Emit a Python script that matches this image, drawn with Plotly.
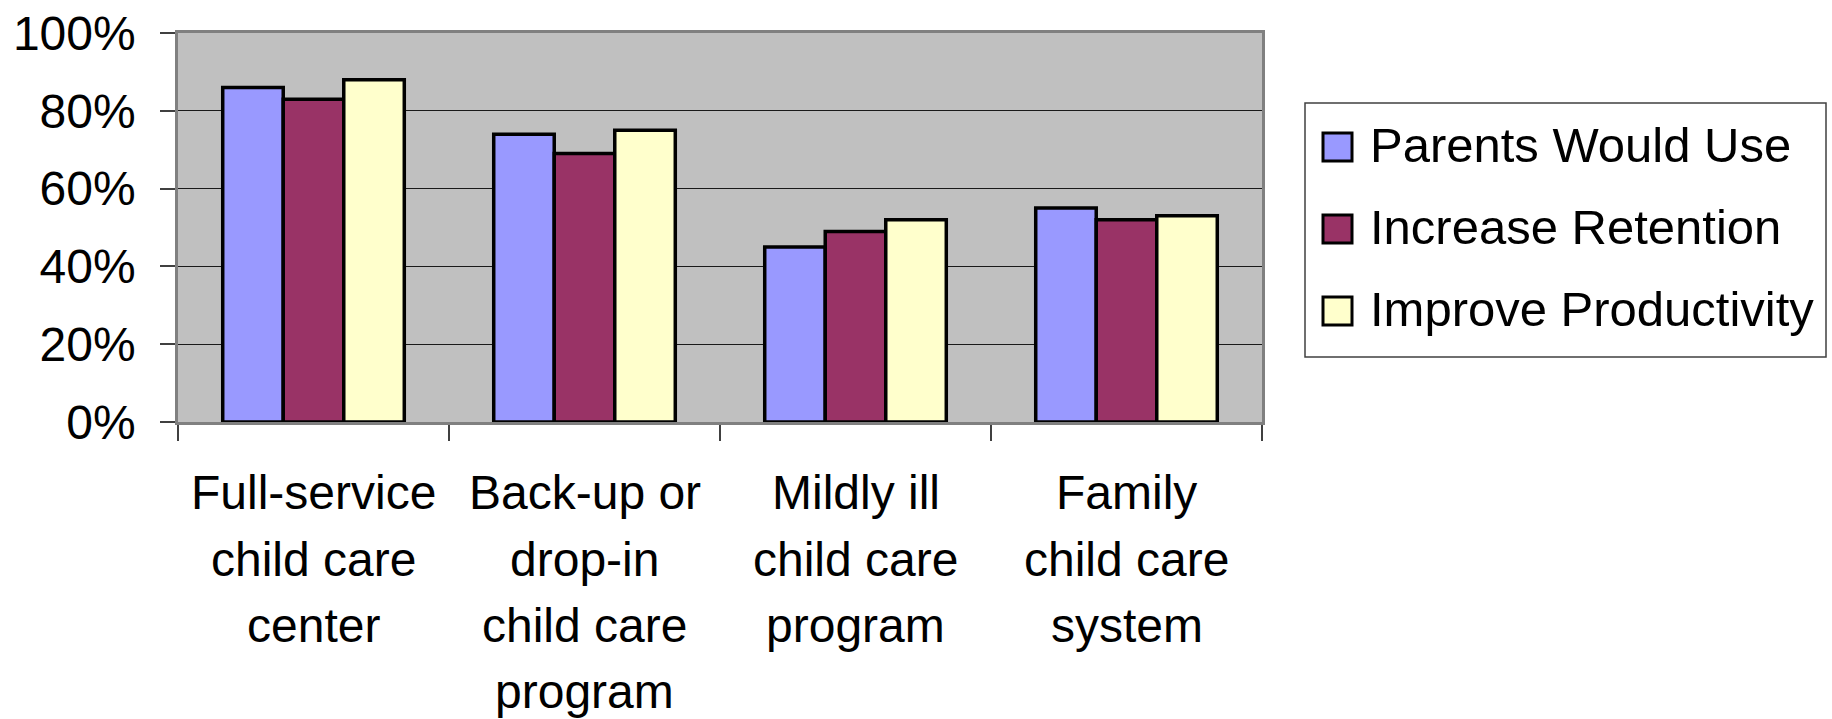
import plotly.graph_objects as go

# Survey results by type of employer-supported child care
category_lines = [
    ["Full-service", "child care", "center"],
    ["Back-up or", "drop-in", "child care", "program"],
    ["Mildly ill", "child care", "program"],
    ["Family", "child care", "system"],
]
categories = [" ".join(lines) for lines in category_lines]
series_names = ["Parents Would Use", "Increase Retention", "Improve Productivity"]
parents_would_use = [0.86, 0.74, 0.45, 0.55]
increase_retention = [0.83, 0.69, 0.49, 0.52]
improve_productivity = [0.88, 0.75, 0.52, 0.53]
series_values = [parents_would_use, increase_retention, improve_productivity]
series_colors = ["#9999FF", "#993366", "#FFFFCC"]
y_tick_values = [0, 0.2, 0.4, 0.6, 0.8, 1.0]
y_tick_labels = ["0%", "20%", "40%", "60%", "80%", "100%"]

FONT = "Liberation Sans, Arial, sans-serif"
W, H = 1832, 719
# plot area in pixels
PL, PR, PT, PB = 178, 1262, 33, 422

fig = go.Figure()
for name, vals, col in zip(series_names, series_values, series_colors):
    fig.add_trace(go.Bar(
        name=name, x=categories, y=vals,
        marker=dict(color=col, line=dict(color="black", width=3.5)),
        showlegend=False,
    ))

fig.update_layout(
    width=W, height=H, autosize=False,
    margin=dict(l=PL, r=W - PR, t=PT, b=H - PB, pad=0),
    paper_bgcolor="white", plot_bgcolor="#C0C0C0",
    barmode="group", bargap=0.33, bargroupgap=0,
    font=dict(family=FONT, size=48, color="black"),
)
fig.update_xaxes(
    type="category", tickson="boundaries", ticks="outside", ticklen=16,
    tickwidth=1.5, tickcolor="#404040",
    showline=True, linecolor="#808080", linewidth=2.5, mirror=True,
    showgrid=False, showticklabels=False, automargin=False,
)
fig.update_yaxes(
    range=[0, 1], tickvals=y_tick_values, ticktext=y_tick_labels,
    ticks="outside", ticklen=15, tickwidth=1.5, tickcolor="#404040",
    showline=True, linecolor="#808080", linewidth=2.5, mirror=True,
    showgrid=True, gridcolor="#1a1a1a", gridwidth=1.2, zeroline=False,
    tickfont=dict(size=48, family=FONT), ticklabelstandoff=15,
    automargin=False,
)


def px_x(px):
    return (px - PL) / (PR - PL)


def px_y(py):
    return (PB - py) / (PB - PT)


annotations = []
# category labels, one line per annotation for wider line spacing
LINE_TOP, LINE_STEP = 493, 66
for cat, lines in zip(categories, category_lines):
    for i, line in enumerate(lines):
        annotations.append(dict(
            xref="x", yref="paper", x=cat, y=px_y(LINE_TOP + i * LINE_STEP),
            xanchor="center", yanchor="middle", showarrow=False, text=line,
            font=dict(family=FONT, size=48, color="black")))

# legend drawn as a framed box with swatches
shapes = [dict(type="rect", xref="paper", yref="paper",
               x0=px_x(1305), x1=px_x(1826), y0=px_y(357), y1=px_y(103),
               line=dict(color="#404040", width=1.5), fillcolor="white")]
row_centers = [147, 229, 311]
for name, col, cy in zip(series_names, series_colors, row_centers):
    shapes.append(dict(type="rect", xref="paper", yref="paper",
                       x0=px_x(1323), x1=px_x(1352), y0=px_y(cy + 14), y1=px_y(cy - 14),
                       line=dict(color="black", width=3), fillcolor=col))
    annotations.append(dict(xref="paper", yref="paper", x=px_x(1368), y=px_y(cy - 2),
                            xanchor="left", yanchor="middle", showarrow=False,
                            text=name, font=dict(family=FONT, size=49, color="black")))
fig.update_layout(shapes=shapes, annotations=annotations)

fig.write_html("out.html")
